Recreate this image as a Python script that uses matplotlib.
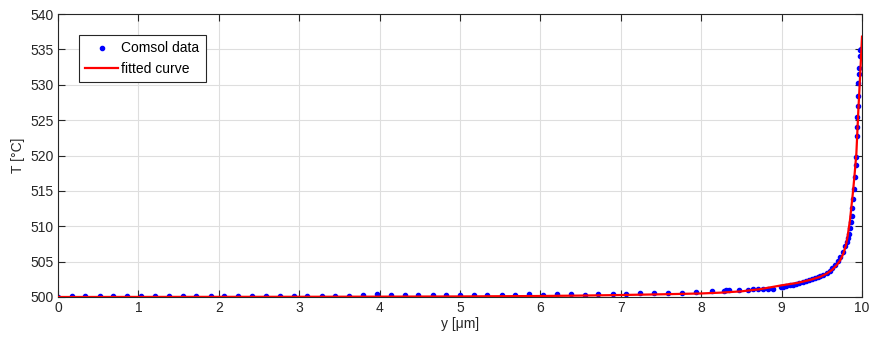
import matplotlib
matplotlib.use('Agg')
import matplotlib.pyplot as plt

# Comsol data points (y [um], T [C])
data_y = [0.00, 0.17, 0.34, 0.52, 0.69, 0.86, 1.03, 1.21, 1.38, 1.55, 1.72, 1.90,
          2.07, 2.24, 2.41, 2.59, 2.76, 2.93, 3.10, 3.28, 3.45, 3.62, 3.79, 3.97,
          4.14, 4.31, 4.48, 4.66, 4.83, 5.00, 5.17, 5.34, 5.52, 5.69, 5.86, 6.03,
          6.21, 6.38, 6.55, 6.72, 6.90, 7.07, 7.24, 7.41, 7.59, 7.76, 7.93, 8.13,
          8.28, 8.31, 8.34, 8.47, 8.58, 8.65, 8.71, 8.77, 8.83, 8.89, 8.99,
          9.02, 9.06, 9.10, 9.14, 9.18, 9.22, 9.26, 9.30, 9.34, 9.38, 9.42, 9.45,
          9.48, 9.52, 9.56, 9.60, 9.63, 9.66, 9.70, 9.73, 9.76, 9.79, 9.81, 9.82,
          9.835, 9.85, 9.86, 9.87, 9.88, 9.89, 9.90, 9.91, 9.92, 9.93, 9.935,
          9.94, 9.942, 9.945, 9.95, 9.955, 9.96, 9.965, 9.975, 9.98, 9.985]
data_T = [500.05, 500.2, 500.2, 500.2, 500.2, 500.2, 500.2, 500.2, 500.2, 500.2, 500.2, 500.2,
          500.2, 500.2, 500.2, 500.2, 500.2, 500.2, 500.2, 500.2, 500.2, 500.2, 500.32, 500.36,
          500.28, 500.28, 500.28, 500.28, 500.28, 500.28, 500.25, 500.25, 500.25, 500.32, 500.36, 500.32,
          500.36, 500.36, 500.35, 500.4, 500.42, 500.45, 500.5, 500.5, 500.55, 500.6, 500.7, 500.85,
          500.9, 500.92, 500.92, 501.0, 501.05, 501.08, 501.1, 501.12, 501.15, 501.2, 501.4,
          501.45, 501.6, 501.7, 501.75, 501.85, 501.95, 502.05, 502.2, 502.35, 502.5, 502.7, 502.85,
          503.0, 503.15, 503.35, 503.7, 504.1, 504.5, 505.1, 505.7, 506.4, 507.2, 507.8, 508.3,
          508.9, 509.8, 510.6, 511.5, 512.6, 513.8, 515.2, 517.0, 518.6, 519.8, 522.8,
          524.0, 525.5, 527.0, 528.4, 530.2, 531.5, 532.3, 534.0, 534.9, 535.0]

# fitted curve
fit_y = [0.0, 1.0, 2.0, 3.0, 4.0, 5.0, 6.0, 6.5, 7.0, 7.5, 8.0, 8.25, 8.5, 8.73, 9.0,
         9.2, 9.35, 9.48, 9.56, 9.63, 9.685, 9.73, 9.77, 9.8, 9.82, 9.85, 9.89,
         9.91, 9.93, 9.955, 9.98, 10.0]
fit_T = [500.0, 500.01, 500.02, 500.03, 500.05, 500.08, 500.14, 500.2, 500.28, 500.38, 500.5,
         500.62, 500.8, 501.1, 501.65, 502.0, 502.4, 502.85, 503.3, 503.85, 504.5, 505.2,
         506.2, 507.3, 508.5, 510.8, 515.1, 517.6, 520.3, 526.5, 532.0, 536.8]

plt.rcParams['font.family'] = ['Liberation Sans', 'DejaVu Sans']
plt.rcParams['font.size'] = 10
axcol = '#262626'

fig = plt.figure(figsize=(8.7, 3.45), dpi=100)
ax = fig.add_axes([58/870, 1-297/345, (862-58)/870, (297-14)/345])

ax.plot(data_y, data_T, '.', color='blue', markersize=6, label='Comsol data', zorder=2)
ax.plot(fit_y, fit_T, '-', color='red', linewidth=1.6, label='fitted curve', zorder=3)

ax.set_xlim(0, 10)
ax.set_ylim(500, 540)
ax.set_xticks(range(0, 11))
ax.set_yticks(range(500, 541, 5))
ax.grid(True, color='#dedede', linewidth=0.8)
ax.set_axisbelow(True)
ax.tick_params(direction='in', top=True, right=True, length=5, width=0.8,
               colors=axcol, labelsize=10, pad=3)
for s in ax.spines.values():
    s.set_color(axcol)
    s.set_linewidth(0.8)

ax.set_xlabel('y [μm]', color=axcol, labelpad=1)
ax.set_ylabel('T [°C]', color=axcol, labelpad=4)

leg = ax.legend(loc='upper left', bbox_to_anchor=(0.026, 0.925), fancybox=False,
                framealpha=1, edgecolor=axcol, handlelength=2.4, borderpad=0.45,
                labelspacing=0.45, handletextpad=0.2, borderaxespad=0)
leg.get_frame().set_linewidth(0.8)

fig.savefig('out.png', dpi=100)
